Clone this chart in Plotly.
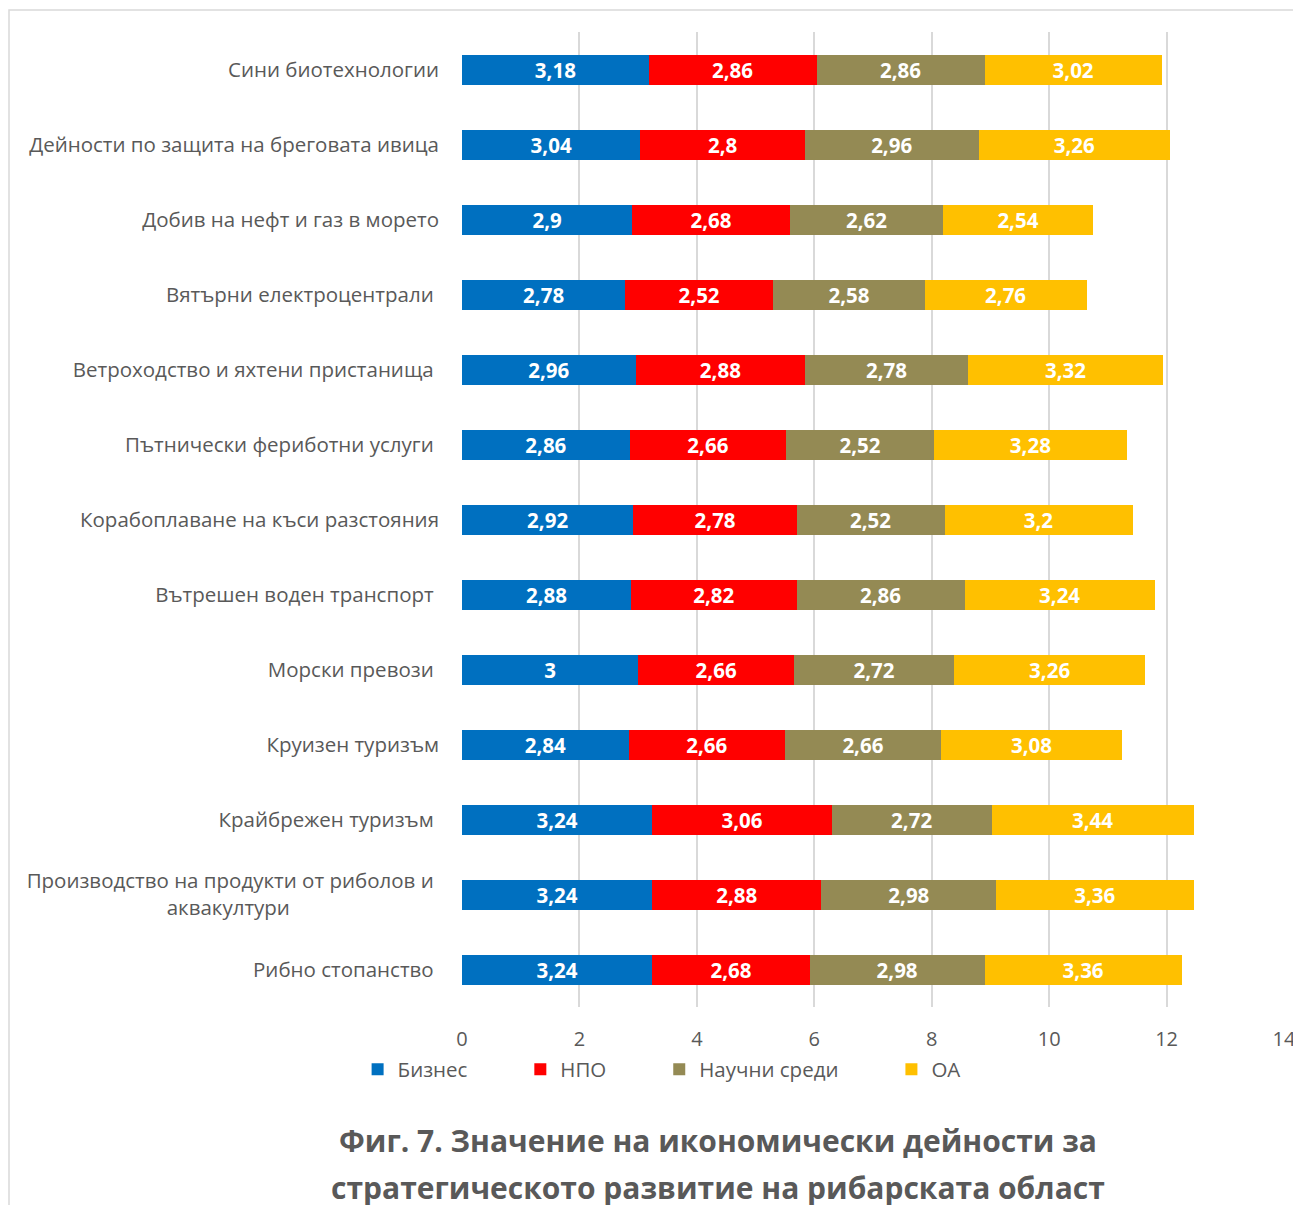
import plotly.graph_objects as go

categories = [
    "Сини биотехнологии",
    "Дейности по защита на бреговата ивица",
    "Добив на нефт и газ в морето",
    "Вятърни електроцентрали ",
    "Ветроходство и яхтени пристанища ",
    "Пътнически фериботни услуги ",
    "Корабоплаване на къси разстояния",
    "Вътрешен воден транспорт ",
    "Морски превози ",
    "Круизен туризъм",
    "Крайбрежен туризъм ",
    "Производство на продукти от риболов и <br>аквакултури" + "\u00a0" * 28,
    "Рибно стопанство ",
]

series_names = ["Бизнес", "НПО", "Научни среди", "ОА"]
biznes = [3.18, 3.04, 2.9, 2.78, 2.96, 2.86, 2.92, 2.88, 3, 2.84, 3.24, 3.24, 3.24]
npo = [2.86, 2.8, 2.68, 2.52, 2.88, 2.66, 2.78, 2.82, 2.66, 2.66, 3.06, 2.88, 2.68]
nauchni = [2.86, 2.96, 2.62, 2.58, 2.78, 2.52, 2.52, 2.86, 2.72, 2.66, 2.72, 2.98, 2.98]
oa = [3.02, 3.26, 2.54, 2.76, 3.32, 3.28, 3.2, 3.24, 3.26, 3.08, 3.44, 3.36, 3.36]
colors = ["#0070C0", "#FF0000", "#948A54", "#FFC000"]

x_ticks = [0, 2, 4, 6, 8, 10, 12, 14]
title_lines = ["Фиг. 7. Значение на икономически дейности за",
               "стратегическото развитие на рибарската област"]

FONT = "Open Sans"
GRAY = "#595959"
PAD = "\u00a0" * 9

def fmt(v):
    s = f"{v:g}"
    return s.replace(".", ",")

fig = go.Figure()
for i, (name, vals, col) in enumerate(zip(series_names, [biznes, npo, nauchni, oa], colors)):
    fig.add_trace(go.Bar(
        y=categories, x=vals, name=name + (PAD if i < 3 else ""), orientation="h",
        marker=dict(color=col, line=dict(width=0)),
        text=[fmt(v) for v in vals], textposition="inside",
        insidetextanchor="middle", textangle=0, constraintext="none",
        textfont=dict(family=FONT, size=20.5, color="white", weight="bold"),
        hoverinfo="skip",
    ))

fig.update_layout(
    barmode="stack", bargap=0.6,
    width=1293, height=1197,
    margin=dict(l=454, r=17, t=24, b=198),
    paper_bgcolor="white", plot_bgcolor="white",
    font=dict(family=FONT, color=GRAY),
    showlegend=True,
    legend=dict(orientation="h", x=-0.127, xanchor="left", y=-0.064, yanchor="middle",
                font=dict(family=FONT, size=20.5, color=GRAY),
                itemwidth=30, traceorder="normal",
                itemclick=False, itemdoubleclick=False),
    xaxis=dict(range=[0, 14], tickvals=x_ticks, showgrid=True, gridcolor="#D9D9D9",
               gridwidth=1.5, zeroline=False, showline=False, automargin=False,
               tickfont=dict(family=FONT, size=20, color=GRAY), ticklabelstandoff=18),
    yaxis=dict(autorange="reversed", showgrid=False, showline=False, ticks="",
               automargin=False,
               tickfont=dict(family=FONT, size=20.5, color=GRAY), ticklabelstandoff=22),
)

fig.add_shape(type="rect", xref="paper", yref="paper",
              x0=-0.5511, x1=1.1, y0=1.0226, y1=-0.25,
              line=dict(color="#D9D9D9", width=1.5), fillcolor="rgba(0,0,0,0)", layer="below")

for i, line in enumerate(title_lines):
    fig.add_annotation(text=line, xref="paper", yref="paper", x=0.312, xanchor="center",
                       y=(1007 - (1140 + 47 * i)) / 975, yanchor="middle", showarrow=False,
                       font=dict(family=FONT, size=30, color=GRAY, weight="bold"))

fig.write_html("out.html")
